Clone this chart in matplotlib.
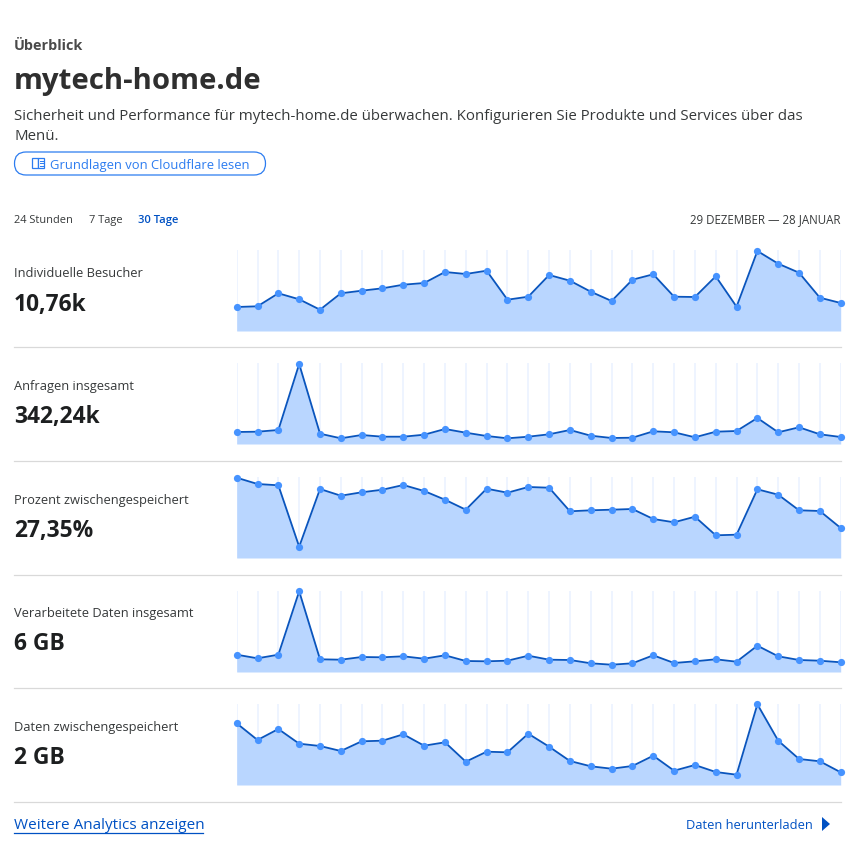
import matplotlib
matplotlib.use('Agg')
import numpy as np
import matplotlib.pyplot as plt
from matplotlib.patches import FancyBboxPatch, Polygon, Rectangle

plt.rcParams['font.family'] = ['Open Sans', 'DejaVu Sans']

W, H = 864, 846

days = np.arange(30)
besucher = [24, 24.7, 37.7, 31.7, 21.3, 37.7, 40.3, 42.7, 46.3, 48, 59, 57, 60.3, 31.3, 34.3,
            56, 50.3, 39.3, 30, 51.3, 56.7, 34.3, 34, 54.7, 24.3, 80, 67.3, 58.3, 33.3, 28]
anfragen = [12, 12.3, 14, 80, 10.3, 5.7, 9, 7.3, 7.3, 9.3, 15, 11.3, 8, 5.7, 7.3,
            9.7, 14, 8.3, 6, 6.3, 12.7, 11.7, 6.7, 12.3, 13, 26, 11.7, 16.7, 9.7, 7]
prozent = [80.3, 74, 72.7, 11.3, 69, 62.3, 65.7, 68.3, 73, 67, 58.3, 48.3, 69.3, 65.3, 71,
           70.3, 46.7, 47.7, 48.3, 49, 39, 35.7, 41.3, 22.7, 23.3, 68.7, 63.3, 47.7, 47, 30]
verarbeitet = [17.3, 13.7, 17.3, 80.7, 12.7, 12.3, 15, 14.7, 15.7, 13.3, 16.7, 11, 10.7, 11.3, 16.3,
               12.3, 12, 8.7, 7.3, 8.7, 16.7, 9, 10.7, 12.7, 10.3, 26.3, 15.7, 12, 11.3, 9.7]
zwischen = [61.7, 45, 56, 41.3, 39, 34, 43.7, 44.3, 50.7, 39.3, 42.7, 23.3, 33.3, 32.7, 51.3,
            38.3, 24, 18.7, 16.3, 19, 29.3, 14.3, 20, 13, 10.3, 80.7, 44.3, 26, 23.7, 12.7]

labels = ['Individuelle Besucher', 'Anfragen insgesamt', 'Prozent zwischengespeichert',
          'Verarbeitete Daten insgesamt', 'Daten zwischengespeichert']
totals = ['10,76k', '342,24k', '27,35%', '6 GB', '2 GB']
series = [besucher, anfragen, prozent, verarbeitet, zwischen]

# pixel rows of each chart: baseline, label centre, total centre, separator below
baselines = [331, 444, 558, 672, 785]
label_y = [272, 385, 499, 612, 726]
total_y = [301.5, 414.5, 528.5, 641.5, 755.5]
separators = [347.5, 461.5, 575.5, 688.5, 802.5]

periods = ['24 Stunden', '7 Tage', '30 Tage']
period_x = [14, 89, 138]
date_range = '29 DEZEMBER — 28 JANUAR'

dark = '#36393a'
black = '#1d1f20'
blue = '#0051c3'
light_blue = '#2c7cf0'

fig = plt.figure(figsize=(W / 100, H / 100), dpi=100, facecolor='white')

# Full-figure axes in pixel coordinates for the page text
page = fig.add_axes([0, 0, 1, 1])
page.set_xlim(0, W)
page.set_ylim(H, 0)
page.axis('off')


def put(x, y, s, size, color=dark, weight='normal', ha='left'):
    return page.text(x, y, s, fontsize=size, color=color, fontweight=weight, ha=ha, va='center_baseline')


put(14, 44.5, 'Überblick', 10.4, '#4a4a4a', 'bold')
put(14, 78.5, 'mytech-home.de', 21.2, '#2f2f2f', 'bold')
put(14, 115, 'Sicherheit und Performance für mytech-home.de überwachen. Konfigurieren Sie Produkte und Services über das',
    10.78, dark)
put(14, 135, 'Menü.', 10.78, dark)

# Button with the little book icon
page.add_patch(FancyBboxPatch((14.5, 152), 251, 23, boxstyle='round,pad=0,rounding_size=11.5',
                              fc='white', ec=light_blue, lw=0.9))
put(50.5, 164, 'Grundlagen von Cloudflare lesen', 9.4, light_blue)
page.add_patch(Rectangle((32, 158.5), 6, 10, fc='white', ec=light_blue, lw=0.9))
page.add_patch(Rectangle((38, 158.5), 6, 10, fc='white', ec=light_blue, lw=0.9))
for ly in [161, 163.5, 166]:
    page.plot([39.5, 42.5], [ly, ly], color=light_blue, lw=0.7)

for x, s in zip(period_x, periods):
    if s == '30 Tage':
        put(x, 219, s, 8.1, blue, 'semibold')
    else:
        put(x, 219, s, 7.9, dark)
put(841, 218, date_range, 8.3, dark, ha='right')

for i in range(5):
    put(14, label_y[i], labels[i], 9.27, dark)
    put(14, total_y[i], totals[i], 16.4, black, 'bold')
    page.plot([14, 841], [separators[i], separators[i]], color='#d9d9d9', lw=0.9)

    # one axes per chart, 1 data unit = 1 pixel in y
    ax = fig.add_axes([236.7 / W, 1 - baselines[i] / H, 604 / W, 81 / H])
    ax.set_xlim(0, 29)
    ax.set_ylim(0, 81)
    ax.axis('off')
    ax.vlines(days, 0, 81, color='#eef4ff', lw=1.4, zorder=1)
    ax.fill_between(days, series[i], 0, color='#b9d6ff', lw=0, zorder=2)
    ax.plot(days, series[i], color='#0a55bd', lw=1.3, zorder=3, clip_on=False)
    ax.plot(days, series[i], 'o', color='#4693ff', ms=5.2, mew=0, zorder=4, clip_on=False)

put(14, 823.5, 'Weitere Analytics anzeigen', 10.95, blue)
page.plot([14, 203], [833, 833], color=blue, lw=0.9)
put(686, 824, 'Daten herunterladen', 9.3, blue)
page.add_patch(Polygon([[822, 817], [830, 824], [822, 831]], closed=True, fc=blue, ec='none'))

fig.savefig('out.png', dpi=100)
